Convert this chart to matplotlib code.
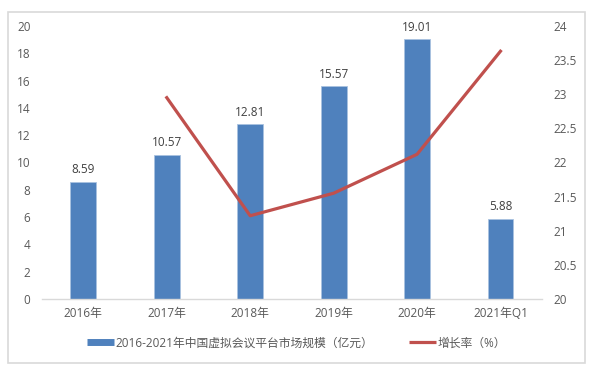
import matplotlib.pyplot as plt
from matplotlib.lines import Line2D
from matplotlib.patches import Rectangle

plt.rcParams['font.family'] = ['Open Sans', 'Noto Sans CJK SC', 'DejaVu Sans']

# data
categories = ['2016年', '2017年', '2018年', '2019年', '2020年', '2021年Q1']
market_size = [8.59, 10.57, 12.81, 15.57, 19.01, 5.88]
growth_x = [1, 2, 3, 4, 5]
growth_rate = [22.95, 21.22, 21.55, 22.12, 23.63]
left_ticks = [0, 2, 4, 6, 8, 10, 12, 14, 16, 18, 20]
right_ticks = [20, 20.5, 21, 21.5, 22, 22.5, 23, 23.5, 24]

bar_color = '#4f81bd'
line_color = '#c0504d'
text_color = '#595959'

fig = plt.figure(figsize=(5.93, 3.71), dpi=100)
# light grey frame round the chart
fig.patches.append(Rectangle((8 / 593, 1 - 363 / 371), 577 / 593, 351 / 371,
                             transform=fig.transFigure, fill=False,
                             edgecolor='#d9d9d9', linewidth=1.2))

ax = fig.add_axes([0.0702, 0.194, 0.8441, 0.736])
x = range(len(categories))
ax.bar(x, market_size, width=0.31, color=bar_color, edgecolor='#a9c2e0', linewidth=0.6, zorder=2)
for i, v in enumerate(market_size):
    ax.annotate(f'{v:.2f}', (i, v), xytext=(0, 4), textcoords='offset points',
                ha='center', va='bottom', fontsize=8.5, color='#404040')

ax.set_xlim(-0.5, len(categories) - 0.5)
ax.set_ylim(0, 20)
ax.set_yticks(left_ticks)
ax.set_xticks(list(x))
ax.set_xticklabels(categories)
for s in ['top', 'right', 'left']:
    ax.spines[s].set_visible(False)
ax.spines['bottom'].set_color('#d9d9d9')
ax.spines['bottom'].set_linewidth(1)
ax.tick_params(axis='y', length=0, pad=8, labelsize=8.5, labelcolor=text_color)
ax.tick_params(axis='x', length=0, pad=6, labelsize=8.5, labelcolor=text_color)

ax2 = ax.twinx()
ax2.plot(growth_x, growth_rate, color=line_color, linewidth=2.3, zorder=3)
ax2.set_ylim(20, 24)
ax2.set_yticks(right_ticks)
ax2.set_yticklabels([f'{t:g}' for t in right_ticks])
for s in ['top', 'right', 'left', 'bottom']:
    ax2.spines[s].set_visible(False)
ax2.tick_params(axis='y', length=0, pad=8, labelsize=8.5, labelcolor=text_color)

handles = [Line2D([], [], color=bar_color, linewidth=5, solid_capstyle='butt'),
           Line2D([], [], color=line_color, linewidth=2.3, solid_capstyle='butt')]
labels = ['2016-2021年中国虚拟会议平台市场规模（亿元）', '增长率（%）']
leg = fig.legend(handles, labels, loc='center', bbox_to_anchor=(0.5, 1 - 343 / 371),
                 ncol=2, frameon=False, fontsize=8.5, handlelength=2.3,
                 handletextpad=0.1, columnspacing=3.0)
for t in leg.get_texts():
    t.set_color(text_color)

fig.savefig('out.png', dpi=100)
